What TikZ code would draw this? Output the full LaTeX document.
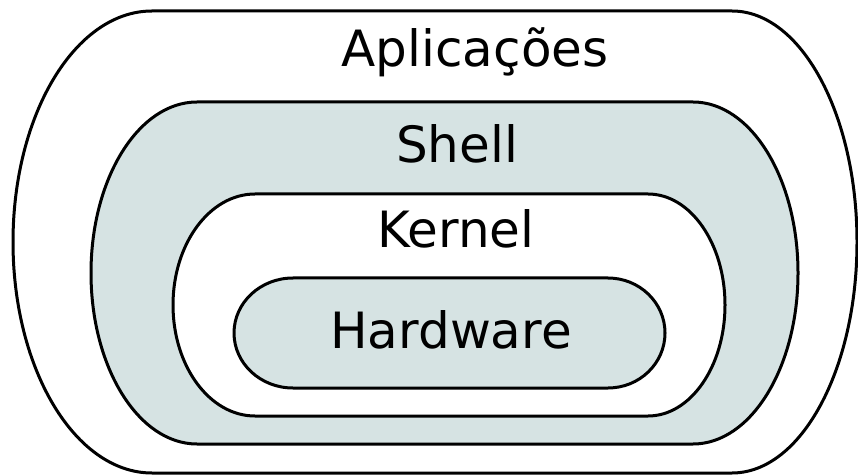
\documentclass[tikz,border=0pt]{standalone}
\usepackage{fontspec}
\setmainfont{DejaVu Sans}
\definecolor{layerfill}{HTML}{D6E3E3}
\newcommand{\layershape}[7]{% L R T B xl xr style
  \path[#7] (#6,#3) -- (#5,#3)
    arc[start angle=90,end angle=270,x radius={#5-#1},y radius={(#3-#4)/2}]
    -- (#6,#4)
    arc[start angle=-90,end angle=90,x radius={#2-#6},y radius={(#3-#4)/2}]
    -- cycle;}
\begin{document}
\begin{tikzpicture}[x=1pt,y=1pt,
  layer/.style={draw=black,line width=3pt},
  lbl/.style={anchor=base,inner sep=0pt,font=\fontsize{50}{60}\selectfont}]
\useasboundingbox (0,0) rectangle (858,474);
\fill[white] (0,0) rectangle (858,474);
\layershape{13}{857}{463}{1}{152}{732}{layer,fill=white}
\layershape{91}{798}{372}{30}{197}{693}{layer,fill=layerfill}
\layershape{173}{725}{280}{58}{255}{648}{layer,fill=white}
\layershape{234}{665}{196}{86}{293}{608}{layer,fill=layerfill}
\node[lbl] (apl) at (475,407) {Aplicações};
\node[lbl] (shell) at (457,311) {Shell};
\node[lbl] (kernel) at (456,226) {Kernel};
\node[lbl] (hw) at (451,126) {Hardware};
\end{tikzpicture}
\end{document}
